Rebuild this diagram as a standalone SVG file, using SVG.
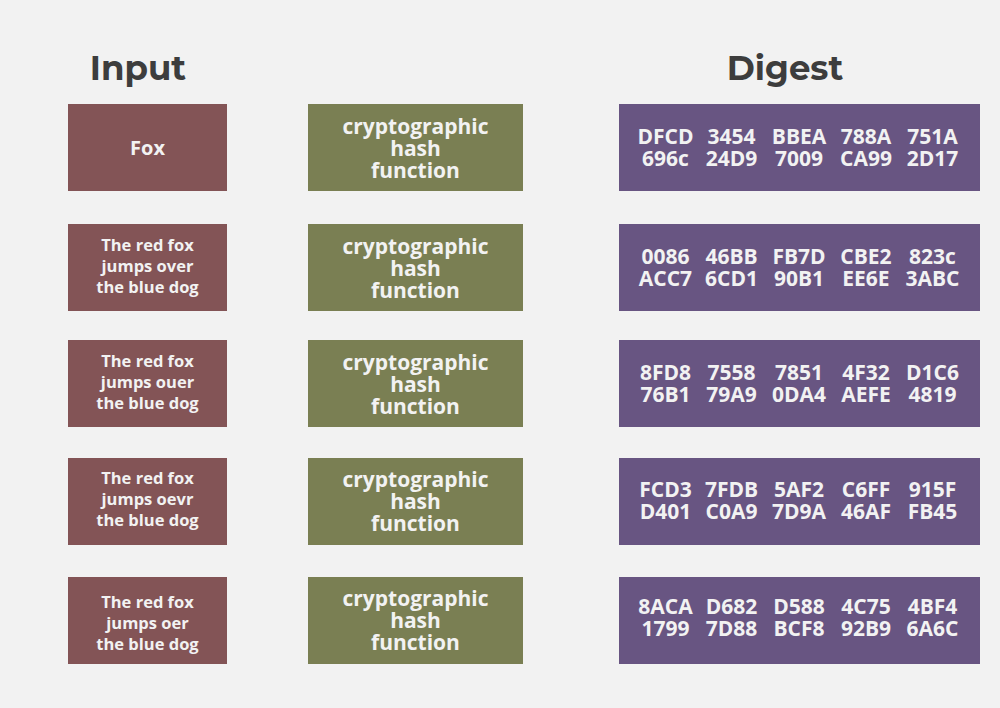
<svg xmlns="http://www.w3.org/2000/svg" width="1000" height="708" viewBox="0 0 1000 708">
<style>
.title{font-family:"Montserrat","Open Sans","Liberation Sans",sans-serif;font-weight:700;font-size:34px;fill:#3d3d3d;text-anchor:middle}
.inp{fill:#835456}
.hash{fill:#7a7f53}
.dig{fill:#685582}
.t{font-family:"Open Sans","Liberation Sans",sans-serif;font-weight:700;fill:#f2f2f2;text-anchor:middle}
.s17{font-size:16.5px}
.s20{font-size:20px}
.s21{font-size:21px}
.sd{font-size:21px}
</style>
<rect width="1000" height="708" fill="#f2f2f2"/>
<text class="title" x="138" y="80">Input</text>
<text class="title" x="785" y="80">Digest</text>

<g id="in1"><rect class="inp" x="68" y="104" width="159" height="87"/><text class="t s20" x="147.5" y="155">Fox</text></g>
<g id="in2"><rect class="inp" x="68" y="224" width="159" height="87"/><text class="t s17"><tspan x="147.5" y="251">The red fox</tspan><tspan x="147.5" y="272">jumps over</tspan><tspan x="147.5" y="293">the blue dog</tspan></text></g>
<g id="in3"><rect class="inp" x="68" y="340" width="159" height="87"/><text class="t s17"><tspan x="147.5" y="367">The red fox</tspan><tspan x="147.5" y="388">jumps ouer</tspan><tspan x="147.5" y="409">the blue dog</tspan></text></g>
<g id="in4"><rect class="inp" x="68" y="458" width="159" height="87"/><text class="t s17"><tspan x="147.5" y="484">The red fox</tspan><tspan x="147.5" y="505">jumps oevr</tspan><tspan x="147.5" y="526">the blue dog</tspan></text></g>
<g id="in5"><rect class="inp" x="68" y="577" width="159" height="87"/><text class="t s17"><tspan x="147.5" y="608">The red fox</tspan><tspan x="147.5" y="629">jumps oer</tspan><tspan x="147.5" y="650">the blue dog</tspan></text></g>

<g id="h1"><rect class="hash" x="308" y="104" width="215" height="87"/><text class="t s21"><tspan x="415.5" y="134">cryptographic</tspan><tspan x="415.5" y="156">hash</tspan><tspan x="415.5" y="178">function</tspan></text></g>
<g id="h2"><rect class="hash" x="308" y="224" width="215" height="87"/><text class="t s21"><tspan x="415.5" y="254">cryptographic</tspan><tspan x="415.5" y="276">hash</tspan><tspan x="415.5" y="298">function</tspan></text></g>
<g id="h3"><rect class="hash" x="308" y="340" width="215" height="87"/><text class="t s21"><tspan x="415.5" y="370">cryptographic</tspan><tspan x="415.5" y="392">hash</tspan><tspan x="415.5" y="414">function</tspan></text></g>
<g id="h4"><rect class="hash" x="308" y="458" width="215" height="87"/><text class="t s21"><tspan x="415.5" y="487">cryptographic</tspan><tspan x="415.5" y="509">hash</tspan><tspan x="415.5" y="531">function</tspan></text></g>
<g id="h5"><rect class="hash" x="308" y="577" width="215" height="87"/><text class="t s21"><tspan x="415.5" y="606">cryptographic</tspan><tspan x="415.5" y="628">hash</tspan><tspan x="415.5" y="650">function</tspan></text></g>

<g id="d1"><rect class="dig" x="619" y="104" width="361" height="87"/>
<text class="t sd"><tspan x="665.5" y="144">DFCD</tspan><tspan x="731.5" y="144">3454</tspan><tspan x="799" y="144">BBEA</tspan><tspan x="866" y="144">788A</tspan><tspan x="932.5" y="144">751A</tspan></text>
<text class="t sd"><tspan x="665.5" y="166">696c</tspan><tspan x="731.5" y="166">24D9</tspan><tspan x="799" y="166">7009</tspan><tspan x="866" y="166">CA99</tspan><tspan x="932.5" y="166">2D17</tspan></text></g>
<g id="d2"><rect class="dig" x="619" y="224" width="361" height="87"/>
<text class="t sd"><tspan x="665.5" y="264">0086</tspan><tspan x="731.5" y="264">46BB</tspan><tspan x="799" y="264">FB7D</tspan><tspan x="866" y="264">CBE2</tspan><tspan x="932.5" y="264">823c</tspan></text>
<text class="t sd"><tspan x="665.5" y="286">ACC7</tspan><tspan x="731.5" y="286">6CD1</tspan><tspan x="799" y="286">90B1</tspan><tspan x="866" y="286">EE6E</tspan><tspan x="932.5" y="286">3ABC</tspan></text></g>
<g id="d3"><rect class="dig" x="619" y="340" width="361" height="87"/>
<text class="t sd"><tspan x="665.5" y="380">8FD8</tspan><tspan x="731.5" y="380">7558</tspan><tspan x="799" y="380">7851</tspan><tspan x="866" y="380">4F32</tspan><tspan x="932.5" y="380">D1C6</tspan></text>
<text class="t sd"><tspan x="665.5" y="402">76B1</tspan><tspan x="731.5" y="402">79A9</tspan><tspan x="799" y="402">0DA4</tspan><tspan x="866" y="402">AEFE</tspan><tspan x="932.5" y="402">4819</tspan></text></g>
<g id="d4"><rect class="dig" x="619" y="458" width="361" height="87"/>
<text class="t sd"><tspan x="665.5" y="497">FCD3</tspan><tspan x="731.5" y="497">7FDB</tspan><tspan x="799" y="497">5AF2</tspan><tspan x="866" y="497">C6FF</tspan><tspan x="932.5" y="497">915F</tspan></text>
<text class="t sd"><tspan x="665.5" y="519">D401</tspan><tspan x="731.5" y="519">C0A9</tspan><tspan x="799" y="519">7D9A</tspan><tspan x="866" y="519">46AF</tspan><tspan x="932.5" y="519">FB45</tspan></text></g>
<g id="d5"><rect class="dig" x="619" y="577" width="361" height="87"/>
<text class="t sd"><tspan x="665.5" y="614">8ACA</tspan><tspan x="731.5" y="614">D682</tspan><tspan x="799" y="614">D588</tspan><tspan x="866" y="614">4C75</tspan><tspan x="932.5" y="614">4BF4</tspan></text>
<text class="t sd"><tspan x="665.5" y="636">1799</tspan><tspan x="731.5" y="636">7D88</tspan><tspan x="799" y="636">BCF8</tspan><tspan x="866" y="636">92B9</tspan><tspan x="932.5" y="636">6A6C</tspan></text></g>
<g id="connectors"></g>
</svg>
